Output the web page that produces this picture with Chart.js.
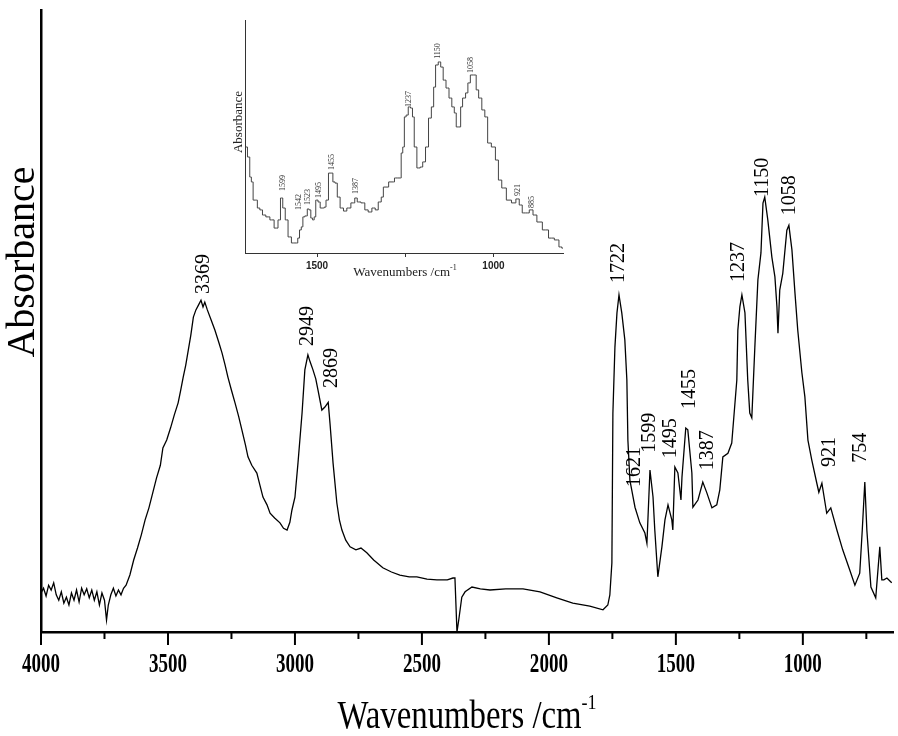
<!DOCTYPE html>
<html>
<head>
<meta charset="utf-8">
<script src="https://cdn.jsdelivr.net/npm/chart.js@4.4.0/dist/chart.umd.min.js"></script>
<style>
  html, body { margin: 0; padding: 0; background: #fff; }
  #wrap { position: relative; width: 898px; height: 736px; }
  #mainChart { position: absolute; left: 0; top: 0; }
  #insetChart { position: absolute; left: 200px; top: 0; }
</style>
</head>
<body>
<div id="wrap">
  <canvas id="mainChart" width="898" height="736"></canvas>
  <canvas id="insetChart" width="380" height="290"></canvas>
</div>
<script>
// Main spectrum (wavenumber / cm-1, absorbance a.u.)
const mainWavenumber = [
  4000, 3990, 3980, 3970, 3960, 3950, 3940, 3930, 3920, 3910, 3900, 3890, 3880, 3870, 3860, 3850,
  3840, 3830, 3820, 3810, 3800, 3790, 3780, 3770, 3760, 3750, 3742, 3735, 3725, 3715, 3705, 3695,
  3685, 3675, 3665, 3650, 3635, 3620, 3605, 3590, 3575, 3560, 3545, 3530, 3520, 3505, 3490, 3475,
  3460, 3450, 3440, 3430, 3420, 3410, 3400, 3390, 3380, 3370, 3362, 3355, 3345, 3330, 3315, 3300,
  3287, 3275, 3264, 3250, 3236, 3222, 3209, 3195, 3185, 3170, 3150, 3138, 3126, 3110, 3098, 3080,
  3059, 3045, 3031, 3020, 3012, 3000, 2988, 2972, 2961, 2949, 2940, 2929, 2918, 2909, 2894, 2882,
  2869, 2862, 2850, 2835, 2825, 2815, 2800, 2783, 2760, 2740, 2717, 2690, 2654, 2620, 2587, 2550,
  2520, 2480, 2441, 2400, 2378, 2370, 2362, 2355, 2343, 2330, 2303, 2270, 2232, 2170, 2102, 2035,
  1969, 1906, 1839, 1787, 1768, 1760, 1752, 1748, 1740, 1732, 1724, 1713, 1701, 1693, 1689, 1681,
  1661, 1642, 1622, 1614, 1602, 1590, 1583, 1571, 1555, 1543, 1531, 1516, 1512, 1504, 1492, 1480,
  1476, 1461, 1453, 1437, 1433, 1413, 1394, 1378, 1358, 1339, 1327, 1315, 1295, 1280, 1260, 1256,
  1248, 1240, 1228, 1217, 1209, 1201, 1189, 1177, 1165, 1157, 1150, 1138, 1122, 1110, 1102, 1098,
  1091, 1079, 1063, 1055, 1043, 1031, 1020, 1004, 992, 980, 965, 945, 937, 925, 906, 890,
  866, 843, 815, 795, 776, 766, 756, 748, 732, 713, 697, 689, 681, 669, 650
];
const mainAbsorbance = [
  0.065, 0.073, 0.060, 0.078, 0.070, 0.082, 0.062, 0.053, 0.067, 0.048, 0.058, 0.045, 0.065, 0.053, 0.070, 0.050,
  0.073, 0.062, 0.072, 0.057, 0.070, 0.053, 0.067, 0.045, 0.065, 0.053, 0.020, 0.045, 0.062, 0.073, 0.060, 0.070,
  0.062, 0.073, 0.078, 0.095, 0.120, 0.140, 0.162, 0.187, 0.207, 0.232, 0.257, 0.278, 0.307, 0.320, 0.340, 0.362,
  0.382, 0.403, 0.425, 0.445, 0.470, 0.495, 0.525, 0.537, 0.545, 0.553, 0.542, 0.550, 0.537, 0.520, 0.503, 0.483,
  0.465, 0.445, 0.425, 0.403, 0.382, 0.360, 0.337, 0.312, 0.292, 0.278, 0.265, 0.245, 0.225, 0.212, 0.198, 0.190,
  0.182, 0.173, 0.170, 0.183, 0.203, 0.225, 0.282, 0.365, 0.437, 0.462, 0.450, 0.437, 0.422, 0.403, 0.370, 0.375,
  0.383, 0.348, 0.282, 0.215, 0.187, 0.170, 0.153, 0.142, 0.137, 0.140, 0.132, 0.120, 0.107, 0.100, 0.095, 0.092,
  0.092, 0.088, 0.087, 0.087, 0.090, 0.090, 0.000, 0.020, 0.058, 0.067, 0.075, 0.072, 0.070, 0.072, 0.072, 0.067,
  0.057, 0.048, 0.043, 0.037, 0.045, 0.062, 0.115, 0.365, 0.475, 0.532, 0.562, 0.532, 0.487, 0.420, 0.320, 0.253,
  0.208, 0.182, 0.165, 0.148, 0.270, 0.225, 0.170, 0.092, 0.142, 0.187, 0.212, 0.187, 0.170, 0.275, 0.265, 0.220,
  0.258, 0.340, 0.337, 0.265, 0.208, 0.220, 0.250, 0.232, 0.207, 0.212, 0.237, 0.292, 0.298, 0.315, 0.420, 0.503,
  0.542, 0.562, 0.532, 0.420, 0.365, 0.357, 0.475, 0.587, 0.632, 0.715, 0.725, 0.687, 0.625, 0.592, 0.542, 0.498,
  0.570, 0.598, 0.670, 0.678, 0.637, 0.565, 0.503, 0.433, 0.392, 0.320, 0.287, 0.248, 0.233, 0.248, 0.198, 0.207,
  0.170, 0.137, 0.103, 0.078, 0.098, 0.170, 0.250, 0.170, 0.075, 0.057, 0.142, 0.087, 0.087, 0.090, 0.082
];

// Inset: fingerprint region
const insetWavenumber = [
  1702, 1692, 1689, 1683, 1679, 1671, 1667, 1657, 1652, 1638, 1629, 1614, 1607, 1600, 1594, 1586,
  1578, 1567, 1558, 1551, 1548, 1541, 1539, 1530, 1525, 1520, 1515, 1510, 1506, 1501, 1493, 1489,
  1482, 1477, 1472, 1463, 1458, 1452, 1446, 1439, 1430, 1420, 1411, 1397, 1389, 1383, 1368, 1361,
  1349, 1340, 1330, 1323, 1313, 1311, 1283, 1278, 1264, 1259, 1255, 1250, 1245, 1238, 1232, 1227,
  1222, 1212, 1203, 1198, 1187, 1181, 1171, 1168, 1160, 1153, 1146, 1139, 1130, 1122, 1114, 1108,
  1103, 1094, 1092, 1083, 1075, 1070, 1061, 1051, 1047, 1037, 1029, 1020, 1013, 999, 990, 982,
  971, 956, 942, 931, 923, 914, 904, 893, 883, 871, 852, 836, 819, 810, 803
];
const insetAbsorbance = [
  0.455, 0.412, 0.326, 0.305, 0.227, 0.227, 0.193, 0.185, 0.163, 0.155, 0.142, 0.107, 0.142, 0.236, 0.193, 0.142,
  0.069, 0.043, 0.043, 0.064, 0.099, 0.112, 0.155, 0.159, 0.189, 0.185, 0.150, 0.142, 0.155, 0.227, 0.219, 0.193,
  0.193, 0.197, 0.227, 0.343, 0.343, 0.305, 0.300, 0.240, 0.193, 0.180, 0.193, 0.215, 0.236, 0.219, 0.215, 0.185,
  0.176, 0.193, 0.185, 0.219, 0.240, 0.283, 0.305, 0.322, 0.322, 0.429, 0.455, 0.584, 0.592, 0.627, 0.622, 0.584,
  0.455, 0.365, 0.369, 0.391, 0.455, 0.579, 0.627, 0.712, 0.807, 0.820, 0.798, 0.742, 0.708, 0.665, 0.627, 0.601,
  0.541, 0.541, 0.627, 0.665, 0.687, 0.730, 0.764, 0.764, 0.700, 0.665, 0.614, 0.584, 0.472, 0.455, 0.399, 0.313,
  0.279, 0.227, 0.215, 0.232, 0.206, 0.172, 0.172, 0.185, 0.163, 0.133, 0.099, 0.064, 0.056, 0.026, 0.021
];

// Peak annotations (text, position along x, level of the text centre)
const peakLabels = ['3369', '2949', '2869', '1722', '1621', '1599', '1495', '1455', '1387', '1237', '1150', '1058', '921', '754'];
const peakLabelWn = [3358, 2949, 2854, 1724, 1661, 1602, 1520, 1445, 1374, 1252, 1157, 1051, 894, 772];
const peakLabelLevel = [0.597, 0.510, 0.440, 0.615, 0.275, 0.332, 0.323, 0.405, 0.303, 0.617, 0.758, 0.728, 0.300, 0.307];

const insetLabels = ['1599', '1542', '1523', '1495', '1455', '1387', '1237', '1150', '1058', '921', '885'];
const insetLabelWn = [1596, 1551, 1525, 1494, 1458, 1390, 1240, 1157, 1064, 931, 891];
const insetLabelLevel = [0.300, 0.219, 0.240, 0.270, 0.391, 0.288, 0.661, 0.867, 0.807, 0.270, 0.219];

const xMajorTicks = [4000, 3500, 3000, 2500, 2000, 1500, 1000];
const xMinorTicks = [3750, 3250, 2750, 2250, 1750, 1250, 750];
const insetTicks = [1500, 1250, 1000];
const insetTickLabels = [1500, 1000];

const SERIF = '"Liberation Serif", "Times New Roman", serif';
const SANS = '"Liberation Sans", Arial, sans-serif';

function drawText(ctx, txt, x, y, o) {
    ctx.save();
    ctx.translate(x, y);
    if (o.rotate) ctx.rotate(o.rotate);
    if (o.sx) ctx.scale(o.sx, 1);
    ctx.font = o.font;
    ctx.fillStyle = o.color || '#000';
    ctx.textAlign = o.align || 'center';
    ctx.textBaseline = o.baseline || 'middle';
    ctx.fillText(txt, 0, 0);
    ctx.restore();
}

// "Wavenumbers /cm" with a raised "-1"
function drawUnitTitle(ctx, cx, baseY, size, supSize, rise, sx, color) {
    ctx.save();
    const main = 'Wavenumbers /cm';
    ctx.font = size + 'px ' + SERIF;
    const w1 = ctx.measureText(main).width;
    ctx.font = supSize + 'px ' + SERIF;
    const w2 = ctx.measureText('-1').width;
    const start = cx - (w1 + w2) * sx / 2;
    drawText(ctx, main, start, baseY, { font: size + 'px ' + SERIF, sx: sx, align: 'left', baseline: 'alphabetic', color: color });
    drawText(ctx, '-1', start + w1 * sx, baseY - rise, { font: supSize + 'px ' + SERIF, sx: sx, align: 'left', baseline: 'alphabetic', color: color });
    ctx.restore();
}

function hiddenAxis(extra) {
    return Object.assign({
        type: 'linear',
        grid: { display: false, drawTicks: false, tickLength: 0 },
        ticks: { display: false },
        title: { display: false }
    }, extra);
}

const mainDecor = {
    id: 'mainDecor',
    afterDraw(chart) {
        const { ctx, chartArea, scales: { x, y } } = chart;
        const bottom = chartArea.bottom;
        ctx.save();
        ctx.strokeStyle = '#000';
        ctx.lineWidth = 2;
        xMajorTicks.forEach(v => {
            const px = x.getPixelForValue(v);
            ctx.beginPath(); ctx.moveTo(px, bottom); ctx.lineTo(px, bottom + 13); ctx.stroke();
        });
        xMinorTicks.forEach(v => {
            const px = x.getPixelForValue(v);
            ctx.beginPath(); ctx.moveTo(px, bottom); ctx.lineTo(px, bottom + 7); ctx.stroke();
        });
        ctx.restore();

        xMajorTicks.forEach(v => {
            drawText(ctx, String(v), x.getPixelForValue(v), bottom + 33,
                { font: 'bold 28px ' + SERIF, sx: 0.68 });
        });

        drawUnitTitle(ctx, (chartArea.left + chartArea.right) / 2, 728, 40, 22, 19, 0.82, '#000');
        drawText(ctx, 'Absorbance', 23, 262, { font: '40px ' + SERIF, rotate: -Math.PI / 2 });

        peakLabels.forEach((t, i) => {
            drawText(ctx, t, x.getPixelForValue(peakLabelWn[i]), y.getPixelForValue(peakLabelLevel[i]),
                { font: '20px ' + SERIF, rotate: -Math.PI / 2 });
        });
    }
};

const insetDecor = {
    id: 'insetDecor',
    afterDraw(chart) {
        const { ctx, chartArea, scales: { x, y } } = chart;
        const bottom = chartArea.bottom;
        ctx.save();
        ctx.strokeStyle = '#333';
        ctx.lineWidth = 1;
        insetTicks.forEach(v => {
            const px = Math.round(x.getPixelForValue(v)) + 0.5;
            ctx.beginPath(); ctx.moveTo(px, bottom); ctx.lineTo(px, bottom + 4); ctx.stroke();
        });
        ctx.restore();

        insetTickLabels.forEach(v => {
            drawText(ctx, String(v), x.getPixelForValue(v), bottom + 13, { font: 'bold 10px ' + SANS, color: '#222' });
        });

        drawUnitTitle(ctx, 205, 276, 13, 8, 6, 1, '#222');
        drawText(ctx, 'Absorbance', 39, 122, { font: '13px ' + SERIF, rotate: -Math.PI / 2, color: '#222' });

        insetLabels.forEach((t, i) => {
            drawText(ctx, t, x.getPixelForValue(insetLabelWn[i]), y.getPixelForValue(insetLabelLevel[i]),
                { font: '8px ' + SERIF, rotate: -Math.PI / 2, color: '#333' });
        });
    }
};

new Chart(document.getElementById('mainChart'), {
    type: 'line',
    data: {
        datasets: [{
            data: mainWavenumber.map((wn, i) => ({ x: wn, y: mainAbsorbance[i] })),
            borderColor: '#000',
            borderWidth: 1.3,
            pointRadius: 0,
            tension: 0,
            fill: false
        }]
    },
    options: {
        responsive: false,
        animation: false,
        layout: { padding: { left: 41, right: 5, top: 10, bottom: 104 } },
        plugins: { legend: { display: false }, tooltip: { enabled: false } },
        scales: {
            x: hiddenAxis({ reverse: true, min: 645, max: 4000, border: { display: true, color: '#000', width: 2.5 } }),
            y: hiddenAxis({ min: 0, max: 1.037, border: { display: true, color: '#000', width: 2.5 } })
        }
    },
    plugins: [mainDecor]
});

new Chart(document.getElementById('insetChart'), {
    type: 'line',
    data: {
        datasets: [{
            data: insetWavenumber.map((wn, i) => ({ x: wn, y: insetAbsorbance[i] })),
            borderColor: '#444',
            borderWidth: 1,
            pointRadius: 0,
            stepped: 'middle',
            fill: false
        }]
    },
    options: {
        responsive: false,
        animation: false,
        layout: { padding: { left: 45, right: 17, top: 20, bottom: 37 } },
        plugins: { legend: { display: false }, tooltip: { enabled: false } },
        scales: {
            x: hiddenAxis({ reverse: true, min: 803, max: 1704, border: { display: true, color: '#333', width: 1 } }),
            y: hiddenAxis({ min: 0, max: 1, border: { display: true, color: '#333', width: 1 } })
        }
    },
    plugins: [insetDecor]
});
</script>
</body>
</html>
